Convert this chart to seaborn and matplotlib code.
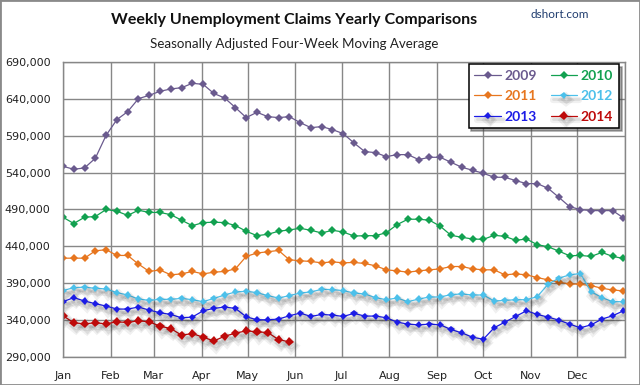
import numpy as np
import pandas as pd
import matplotlib
matplotlib.use("Agg")
import matplotlib.pyplot as plt
import seaborn as sns
from matplotlib import patheffects as pe
from matplotlib.patches import Rectangle
from matplotlib.ticker import FuncFormatter

# ---------------- data (thousands of claims, weekly) ----------------
years = ["2009", "2010", "2011", "2012", "2013", "2014"]
week_days = [7 * i for i in range(53)]  # day of year of each weekly reading

y2009 = [548.6, 544.5, 546.4, 559.5, 590.6, 611.9, 622.7, 640.3, 644.8, 650.3, 653.4, 655.2, 661.1, 659.7,
         647.3, 641.2, 628.1, 614.6, 621.8, 615.9, 614.6, 615.9, 607.8, 601.0, 602.4, 598.3, 592.9,
         580.2, 568.5, 567.1, 561.7, 564.4, 564.4, 557.7, 560.8, 560.8, 554.0, 547.3, 543.2, 539.1,
         533.7, 533.7, 529.2, 525.1, 525.1, 518.8, 506.6, 493.9, 489.9, 488.5, 488.5, 488.5, 478.6]
y2010 = [479.5, 471.0, 479.5, 480.5, 490.0, 487.7, 482.0, 489.0, 486.0, 486.0, 483.0, 475.5, 468.0, 472.3,
         472.7, 472.3, 468.2, 460.5, 454.5, 456.4, 460.5, 462.3, 464.5, 461.8, 458.2, 461.8, 459.5,
         454.0, 454.5, 454.5, 458.6, 469.5, 476.8, 476.8, 475.5, 467.3, 455.0, 452.3, 450.0, 449.5,
         455.0, 453.6, 448.2, 450.0, 442.3, 439.5, 433.6, 427.3, 427.7, 426.4, 431.8, 426.4, 423.6]
y2011 = [424.0, 424.0, 424.0, 434.0, 435.5, 427.7, 427.7, 416.0, 406.0, 408.0, 401.4, 402.7, 406.0, 402.7,
         405.0, 406.0, 409.5, 426.4, 431.0, 432.7, 434.5, 421.8, 420.5, 419.5, 417.7, 419.0, 417.7,
         418.2, 416.8, 413.6, 408.2, 406.8, 405.0, 406.8, 408.2, 409.5, 412.7, 412.7, 409.5, 408.2,
         408.2, 401.4, 402.7, 401.4, 397.7, 394.6, 391.4, 389.1, 388.6, 386.8, 383.2, 380.9, 379.6]
y2012 = [380.0, 384.1, 384.6, 383.2, 382.3, 377.3, 374.1, 368.6, 366.8, 368.2, 368.2, 369.5, 367.7, 365.0,
         369.5, 374.1, 378.2, 379.1, 377.3, 373.2, 370.0, 373.2, 376.8, 378.2, 381.8, 381.4, 380.0,
         376.8, 375.5, 370.5, 367.7, 370.0, 365.0, 368.6, 371.4, 371.4, 374.6, 375.5, 374.1, 374.1,
         365.9, 366.8, 367.7, 367.7, 371.8, 388.6, 396.8, 401.4, 403.2, 378.6, 370.5, 365.0, 365.0]
y2013 = [365.0, 370.5, 365.9, 362.3, 359.1, 355.0, 355.0, 357.7, 353.6, 350.0, 347.7, 343.2, 344.1, 352.7,
         355.9, 357.7, 355.9, 344.5, 340.5, 340.5, 341.4, 345.9, 349.5, 345.0, 347.7, 346.8, 345.0,
         349.1, 345.5, 345.5, 343.2, 337.3, 334.6, 333.6, 334.6, 333.6, 327.3, 322.7, 316.8, 314.1,
         329.6, 337.3, 345.0, 352.7, 347.7, 344.1, 340.0, 334.6, 329.6, 333.6, 341.4, 345.9, 352.7]
y2014 = [345.9, 336.4, 335.0, 336.4, 335.0, 337.7, 336.8, 339.1, 337.7, 331.8, 328.6, 319.6, 321.8, 316.8,
         311.8, 318.2, 322.3, 325.5, 324.1, 323.2, 313.6, 310.5]

series = {"2009": y2009, "2010": y2010, "2011": y2011, "2012": y2012, "2013": y2013, "2014": y2014}

month_labels = ["Jan", "Feb", "Mar", "Apr", "May", "Jun", "Jul", "Aug", "Sep", "Oct", "Nov", "Dec"]
month_starts = [0, 31, 59, 90, 120, 151, 181, 212, 243, 273, 304, 334, 365]
y_ticks = [290000, 340000, 390000, 440000, 490000, 540000, 590000, 640000, 690000]

title = "Weekly Unemployment Claims Yearly Comparisons"
subtitle = "Seasonally Adjusted Four-Week Moving Average"
source = "dshort.com"

colors = {"2009": "#6a5a8e", "2010": "#12a150", "2011": "#e7761f",
          "2012": "#4cc0ea", "2013": "#1c1ce6", "2014": "#be0a0a"}

# ---------------- build table ----------------
frames = []
for yr in years:
    vals = series[yr]
    frames.append(pd.DataFrame({"day": week_days[:len(vals)],
                                "claims": np.array(vals) * 1000,
                                "year": yr}))
df = pd.concat(frames, ignore_index=True)

# ---------------- plot ----------------
sns.set_style("white")
plt.rcParams["font.family"] = ["DejaVu Sans"]

fig = plt.figure(figsize=(6.4, 3.85), dpi=100)
ax = fig.add_axes([63 / 640, 28 / 385, 562 / 640, 295 / 385])

grid_c = "#878787"
shadow = [pe.SimpleLineShadow(offset=(1.5, -3), shadow_color="#000000", alpha=0.06, linewidth=4.5),
          pe.SimpleLineShadow(offset=(1.5, -2.5), shadow_color="#000000", alpha=0.08, linewidth=2),
          pe.Normal()]

for yr in years:
    sub = df[df["year"] == yr]
    big = yr == "2014"
    sns.lineplot(data=sub, x="day", y="claims", ax=ax, color=colors[yr],
                 marker="D", markersize=4.6 if big else 3.6, markeredgewidth=0,
                 linewidth=0.9, label=yr, estimator=None, sort=False)
    line = ax.lines[-1]
    if yr in ("2012", "2013", "2014"):
        line.set_path_effects(shadow)

ax.set_xlim(0, 365)
ax.set_ylim(290000, 690000)
ax.set_xticks(month_starts[:-1])
ax.set_xticklabels(month_labels)
ax.set_xticks(month_starts, minor=True)
ax.set_yticks(y_ticks)
ax.yaxis.set_major_formatter(FuncFormatter(lambda v, p: f"{int(v):,}"))
ax.grid(True, which="both", color=grid_c, linewidth=1)
ax.set_axisbelow(True)
for s in ax.spines.values():
    s.set_color(grid_c)
    s.set_linewidth(1)
ax.tick_params(axis="both", which="both", length=0, labelsize=8, colors="#222222")
ax.tick_params(axis="x", pad=10)
ax.tick_params(axis="y", pad=9)
ax.set_xlabel("")
ax.set_ylabel("")

# legend
handles, labels = ax.get_legend_handles_labels()
hmap = dict(zip(labels, handles))
order = ["2009", "2011", "2013", "2010", "2012", "2014"]
leg = ax.legend([hmap[k] for k in order], order, ncol=2, loc="upper right",
                bbox_to_anchor=(0.989, 0.993), borderaxespad=0, frameon=True, fancybox=False,
                shadow=True, framealpha=1, edgecolor="black",
                prop={"family": "Lato", "weight": "bold", "size": 10},
                handlelength=1.9, handletextpad=0.25, columnspacing=1.0,
                labelspacing=0.6, borderpad=0.42)
leg.get_frame().set_linewidth(1.1)
for t in leg.get_texts():
    t.set_color(colors[t.get_text()])

fig.text(0.46, 0.948, title, ha="center", va="center", fontsize=11.5,
         fontweight="bold", family="Lato", color="#111111")
fig.text(0.46, 0.886, subtitle, ha="center", va="center", fontsize=9.6,
         family="Lato", color="#222222")
fig.text(0.874, 0.963, source, ha="center", va="center", fontsize=8.5,
         family="Lato", color="#1f3c6e")

fig.patches.append(Rectangle((0, 0), 1, 1, transform=fig.transFigure, fill=False,
                             edgecolor="#8a8a8a", linewidth=2))

fig.savefig("out.png", dpi=100)
